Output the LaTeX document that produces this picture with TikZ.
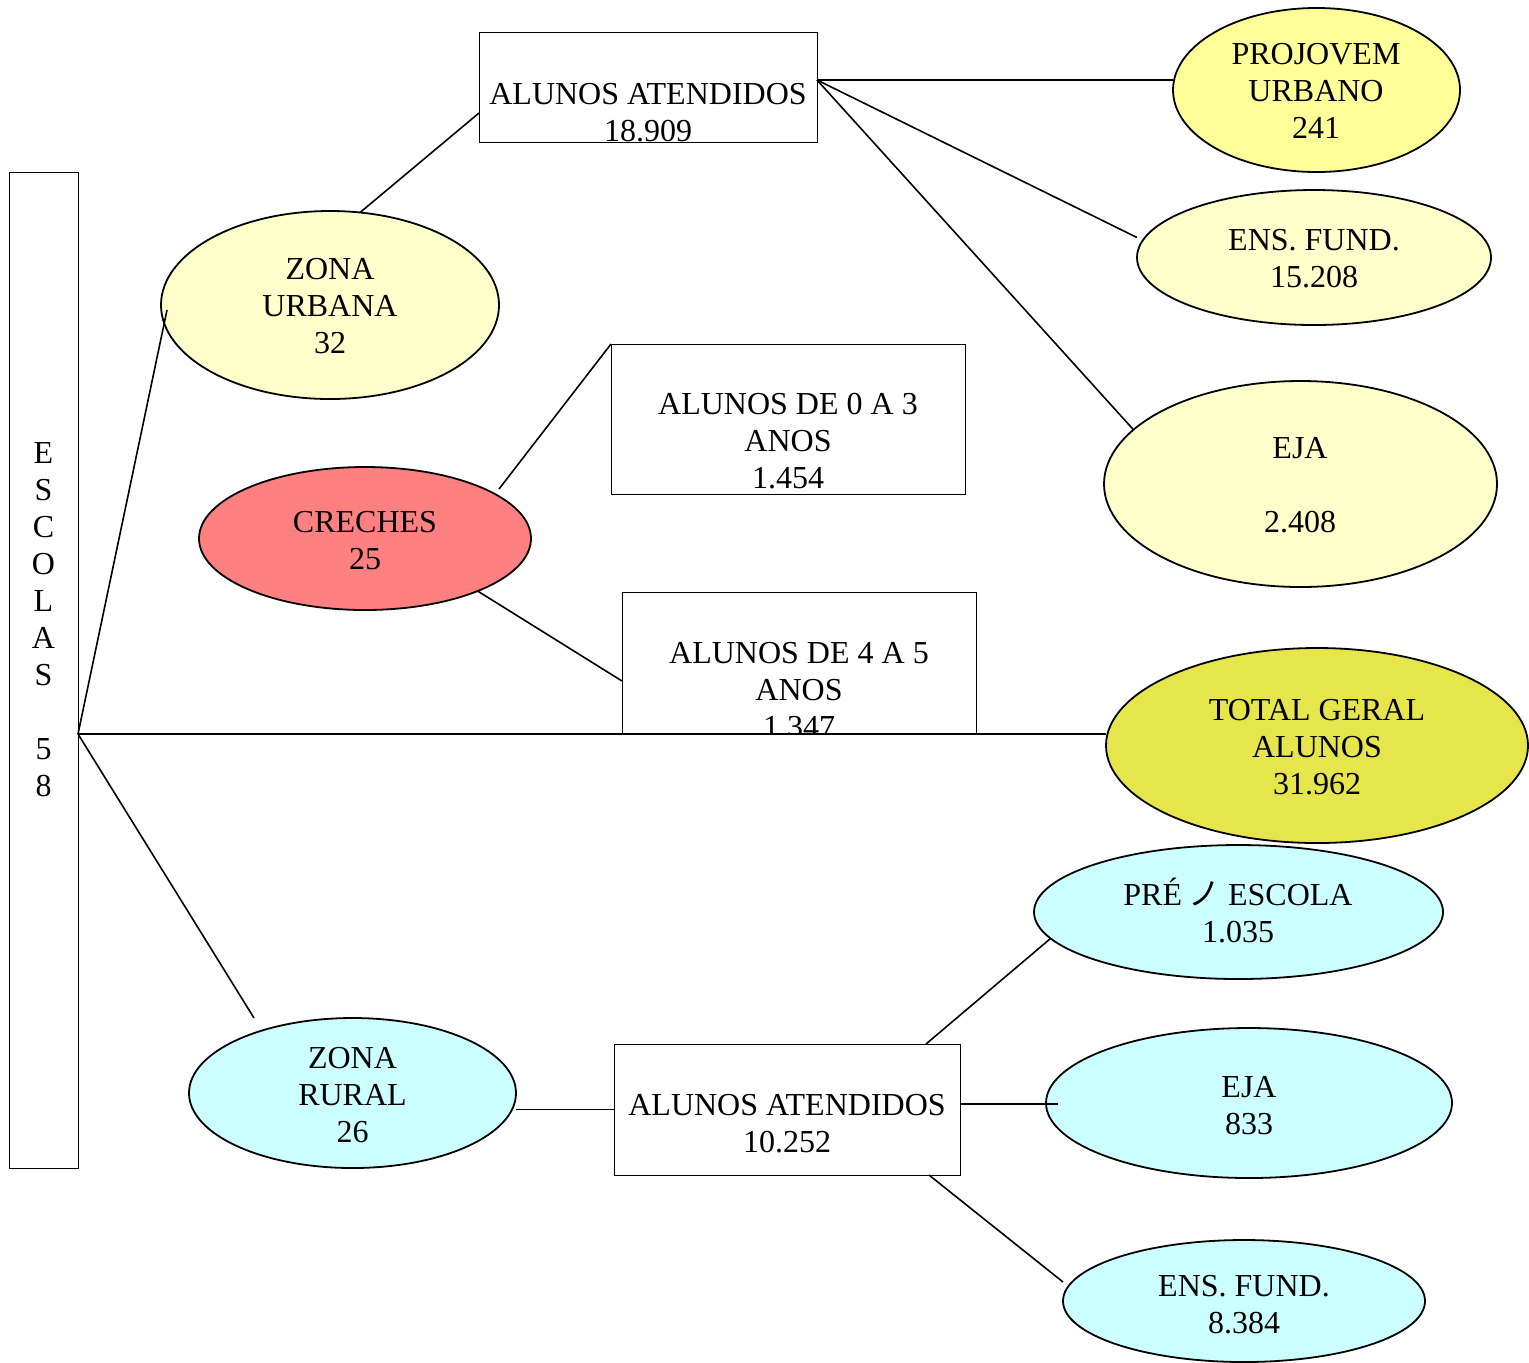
\documentclass[tikz,border=0pt]{standalone}
\usepackage{fontspec}
\setmainfont{Liberation Serif}
\newfontfamily\cjk{Noto Sans CJK JP}
\usetikzlibrary{shapes.geometric,calc}
\definecolor{ltyellow}{HTML}{FFFFCC}
\definecolor{yelB}{HTML}{FFFF99}
\definecolor{redC}{HTML}{FF8080}
\definecolor{olv}{HTML}{E6E64C}
\definecolor{cyanL}{HTML}{CCFFFF}
\tikzset{
  ell/.style={ellipse, draw, line width=0.9pt, inner sep=0pt, outer sep=0pt},
  box/.style={rectangle, draw, fill=white, line width=0.5pt, inner sep=0pt, outer sep=0pt},
  txt/.style={align=center, inner sep=0pt, font=\fontsize{16pt}{18.5pt}\selectfont},
  conn/.style={line width=0.8pt}
}
\begin{document}
\begin{tikzpicture}[x=0.5pt,y=-0.5pt]
\useasboundingbox (0,0) rectangle (1529,1362);
% ESCOLAS
\node[box, minimum width=34.5pt, minimum height=498pt] (esc) at (43.5,670) {};
\node[txt] (esct) at (43.5,620) {E\\S\\C\\O\\L\\A\\S\\\mbox{}\\5\\8};
% Zona urbana
\node[ell, fill=ltyellow, minimum width=169pt, minimum height=94pt] (zu) at (330,305) {};
\node[txt] (zut) at (330,306.5) {ZONA\\URBANA\\32};
% Alunos atendidos (urbano)
\node[box, minimum width=169pt, minimum height=55pt] (aa) at (648,87) {};
\begin{scope}
  \clip (aa.north west) rectangle (aa.south east);
  \node[txt] (aat) at (648,112.5) {ALUNOS ATENDIDOS\\18.909};
\end{scope}
% right side urban
\node[ell, fill=yelB, minimum width=143.5pt, minimum height=82pt] (pj) at (1316.5,90) {};
\node[txt] (pjt) at (1316,91) {PROJOVEM\\URBANO\\241};
\node[ell, fill=ltyellow, minimum width=177pt, minimum height=67.5pt] (ef1) at (1314,257.5) {};
\node[txt] (ef1t) at (1314,258.5) {ENS. FUND.\\15.208};
\node[ell, fill=ltyellow, minimum width=196.5pt, minimum height=103pt] (eja1) at (1300.5,484) {};
\node[txt] (eja1t) at (1300,485.5) {EJA\\\mbox{}\\2.408};
% Creches
\node[ell, fill=redC, minimum width=166pt, minimum height=71.5pt] (cr) at (365,538.5) {};
\node[txt] (crt) at (365,540.5) {CRECHES\\25};
\node[box, minimum width=177pt, minimum height=75pt] (b03) at (788,419) {};
\node[txt] (b03t) at (788,441.5) {ALUNOS DE 0 A 3\\ANOS\\1.454};
\node[box, minimum width=177pt, minimum height=71pt] (b45) at (799,663) {};
\begin{scope}
  \clip (b45.north west) rectangle (b45.south east);
  \node[txt] (b45t) at (799,690) {ALUNOS DE 4 A 5\\ANOS\\1.347};
\end{scope}
% Total
\node[ell, fill=olv, minimum width=211pt, minimum height=97.5pt] (tot) at (1317,745.5) {};
\node[txt] (tott) at (1317,747.5) {TOTAL GERAL\\ALUNOS\\31.962};
% Rural
\node[ell, fill=cyanL, minimum width=163.5pt, minimum height=75pt] (zr) at (352.5,1093) {};
\node[txt] (zrt) at (352.5,1095) {ZONA\\RURAL\\26};
\node[box, minimum width=173pt, minimum height=65.5pt] (ar) at (787,1109.5) {};
\node[txt] (art) at (787,1123.5) {ALUNOS ATENDIDOS\\10.252};
\node[ell, fill=cyanL, minimum width=204.5pt, minimum height=67pt] (pre) at (1238.5,912) {};
\node[txt] (pret) at (1238,910) {PRÉ\hspace{3pt}{\cjk ノ} ESCOLA\\1.035};
\node[ell, fill=cyanL, minimum width=203pt, minimum height=75pt] (eja2) at (1249,1103) {};
\node[txt] (eja2t) at (1249,1105.5) {EJA\\833};
\node[ell, fill=cyanL, minimum width=181pt, minimum height=61pt] (ef2) at (1244,1301) {};
\node[txt] (ef2t) at (1244,1305) {ENS. FUND.\\8.384};
% connectors
\coordinate (aae) at ([yshift=3.5pt]aa.east);
\coordinate (escp) at ([yshift=-32pt]esc.east);
\coordinate (are) at ([yshift=2.75pt]ar.east);
\draw[conn] (zu.72) -- ([yshift=-13pt]aa.west);
\draw[conn] (aae) -- (aae -| pj.west);
\draw[conn] (aae) -- ([yshift=10pt]ef1.west);
\draw[conn] (aae) -- (eja1.162);
\draw[conn] (escp) -- ([xshift=3pt,yshift=-2.5pt]zu.west);
\draw[conn] (escp) -- (escp -| tot.west);
\draw[conn] (escp) -- ([xshift=-49.25pt]zr.north);
\draw[conn] ([xshift=67pt,yshift=24.75pt]cr.center) -- (b03.north west);
\draw[conn] (cr.-25) -- ([yshift=-9pt]b45.west);
\draw[conn] (ar.west -| zr.east) -- (ar.west);
\draw[conn] ([xshift=69.5pt]ar.north) -- (pre.188);
\draw[conn] (are) -- ($(are -| eja2.west)+(6pt,0)$);
\draw[conn] ([xshift=71pt]ar.south) -- ([yshift=9.5pt]ef2.west);
\end{tikzpicture}
\end{document}
